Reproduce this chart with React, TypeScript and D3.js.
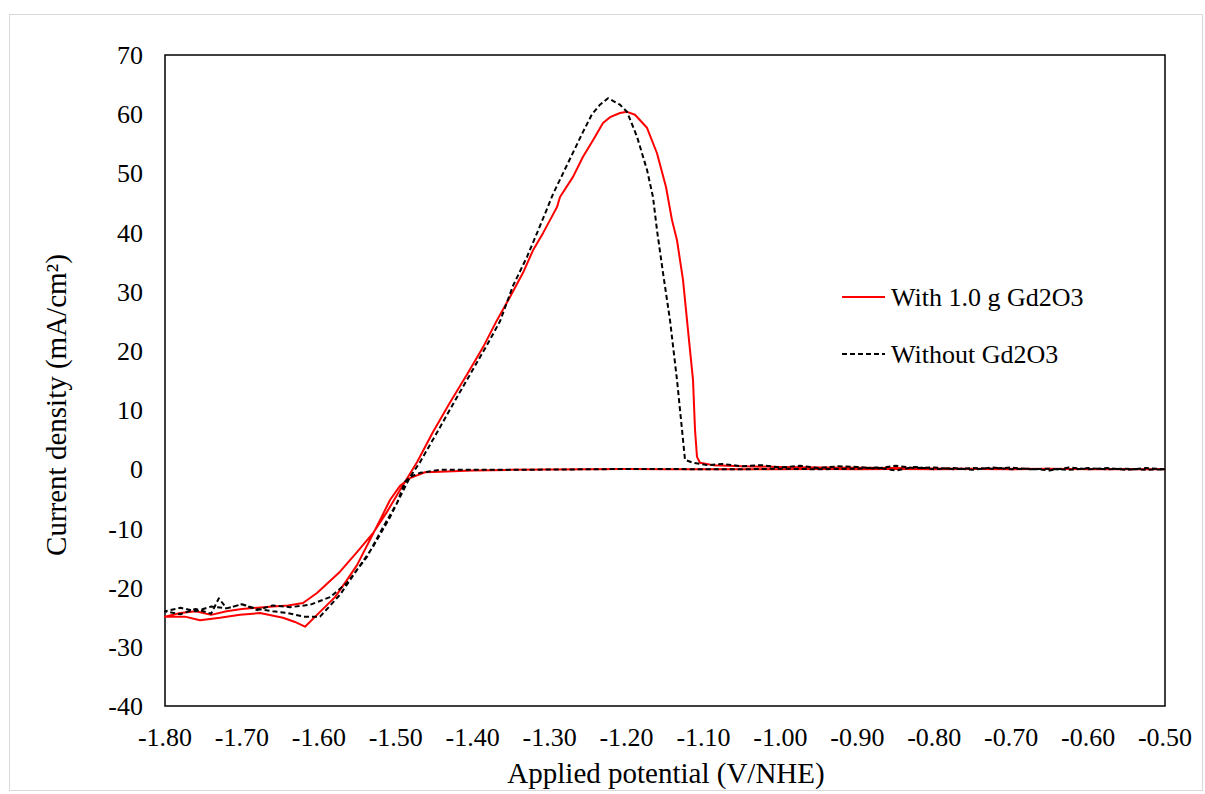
import React from "react";
import * as d3 from "d3";

const xTicks = [-1.8, -1.7, -1.6, -1.5, -1.4, -1.3, -1.2, -1.1, -1.0, -0.9, -0.8, -0.7, -0.6, -0.5];
const yTicks = [-40, -30, -20, -10, 0, 10, 20, 30, 40, 50, 60, 70];

// With 1.0 g Gd2O3 : cathodic sweep (-0.5 -> -1.8) then anodic sweep (-1.8 -> -0.5)
const redPotential = [
  -0.5, -0.55, -0.6, -0.65, -0.7, -0.75, -0.8, -0.85, -0.9, -0.95, -1.0, -1.05, -1.1, -1.15, -1.2, -1.25, -1.3, -1.35, -1.4,
  -1.4425, -1.462, -1.4815, -1.4945, -1.5075, -1.5205, -1.5335, -1.5504, -1.566, -1.579, -1.5985, -1.618, -1.631, -1.6466,
  -1.6765, -1.7025, -1.7285, -1.7545, -1.774, -1.8,
  -1.78, -1.76, -1.74, -1.72, -1.7, -1.68, -1.66, -1.64, -1.6206, -1.6024, -1.5725, -1.5504, -1.5296, -1.5114, -1.4945,
  -1.4724, -1.4516, -1.4295, -1.4074, -1.3866, -1.3684, -1.3515, -1.3346, -1.3216, -1.3086, -1.2995, -1.2904, -1.2865,
  -1.2696, -1.2566, -1.2436, -1.2306, -1.2215, -1.2085, -1.1994, -1.189, -1.1734, -1.1604, -1.1487, -1.1409, -1.1344,
  -1.1266, -1.1201, -1.1136, -1.111, -1.1084, -1.1045, -1.0876, -1.05, -1.0, -0.95, -0.9, -0.85, -0.8, -0.75, -0.7, -0.65,
  -0.6, -0.55, -0.5,
];
const redCurrent = [
  0.0, 0.05, 0.0, 0.1, 0.0, 0.05, 0.0, 0.05, 0.0, 0.05, 0.0, 0.0, 0.0, 0.0, 0.05, 0.0, -0.05, -0.1, -0.2,
  -0.4, -0.5, -1.5, -2.8, -5.2, -8.6, -11.9, -16.2, -19.2, -21.6, -24.1, -26.6, -25.8, -25.1,
  -24.3, -24.6, -25.1, -25.5, -24.9, -24.9,
  -24.3, -24.0, -24.6, -24.0, -23.6, -23.4, -23.2, -23.0, -22.6, -20.9, -17.3, -14.0, -10.8, -7.2, -3.5,
  1.2, 6.3, 11.3, 16.0, 20.6, 25.2, 29.1, 33.2, 37.0, 39.9, 42.1, 44.3, 46.0,
  49.4, 52.8, 55.6, 58.5, 59.5, 60.2, 60.4, 59.9, 57.7, 53.4, 47.7, 42.1, 38.7,
  32.0, 23.5, 15.1, 6.7, 2.1, 1.1, 0.7, 0.5, 0.4, 0.3, 0.25, 0.2, 0.15, 0.1, 0.1, 0.05,
  0.05, 0.0, 0.0,
];

// Without Gd2O3
const blackPotential = [
  -0.5, -0.525, -0.55, -0.575, -0.6, -0.625, -0.65, -0.675, -0.7, -0.725, -0.75, -0.775, -0.8, -0.825, -0.85, -0.875, -0.9,
  -0.95, -1.0, -1.05, -1.1, -1.15, -1.2, -1.25, -1.3, -1.35, -1.4,
  -1.4425, -1.4685, -1.4815, -1.488, -1.4984, -1.5166, -1.5374, -1.5634, -1.5855, -1.6115, -1.6375, -1.66, -1.68, -1.7,
  -1.72, -1.74, -1.76, -1.78, -1.8,
  -1.78, -1.76, -1.74, -1.73, -1.72, -1.7, -1.68, -1.66, -1.64, -1.62, -1.5985, -1.5725, -1.5504, -1.5296, -1.5075,
  -1.4945, -1.4815, -1.4685, -1.4464, -1.4256, -1.4035, -1.3814, -1.3645, -1.3476, -1.3294, -1.3164, -1.3034, -1.2956,
  -1.2826, -1.2696, -1.2566, -1.2449, -1.2345, -1.2241, -1.2085, -1.1994, -1.1864, -1.1734, -1.1656, -1.1604, -1.1526,
  -1.1435, -1.1344, -1.1279, -1.124, -1.1136, -1.0954, -1.075, -1.05, -1.025, -1.0, -0.975, -0.95, -0.925, -0.9, -0.875,
  -0.85, -0.825, -0.8, -0.775, -0.75, -0.725, -0.7, -0.675, -0.65, -0.625, -0.6, -0.575, -0.55, -0.525, -0.5,
];
const blackCurrent = [
  0.0, 0.2, -0.1, 0.2, 0.0, 0.3, -0.2, 0.1, 0.0, 0.3, -0.1, 0.2, 0.0, 0.4, -0.2, 0.3, 0.1,
  0.0, 0.1, 0.0, 0.0, 0.05, 0.05, 0.0, -0.05, -0.1, -0.1,
  -0.1, -0.6, -1.3, -2.1, -5.7, -9.8, -14.8, -19.2, -21.6, -22.9, -23.3, -23.0, -23.8, -22.8,
  -23.5, -23.2, -24.0, -23.4, -24.0,
  -24.5, -23.6, -24.4, -21.8, -23.5, -22.8, -23.6, -24.0, -24.3, -24.9, -24.9, -21.2, -17.0, -13.1, -8.1,
  -4.7, -1.3, 1.2, 6.2, 11.0, 16.0, 21.0, 25.0, 31.0, 35.9, 39.9, 44.0, 46.5,
  50.0, 53.5, 57.0, 60.0, 61.6, 62.7, 61.6, 60.4, 56.2, 50.6, 46.0, 40.4, 33.2,
  25.2, 15.1, 6.7, 1.6, 1.1, 0.7, 0.9, 0.5, 0.7, 0.3, 0.6, 0.2, 0.5, 0.4, 0.1,
  0.6, 0.2, 0.3, 0.0, 0.2, 0.1, 0.3, 0.0, 0.1, -0.1, 0.2, 0.0, 0.1, -0.1, 0.0,
];

const seriesNames = ["With 1.0 g Gd2O3", "Without Gd2O3"];

const W = 1205;
const H = 794;
const left = 165;
const right = 1165;
const top = 55;
const bottom = 706;
const FONT = "'Liberation Serif', 'Times New Roman', serif";

export default function App() {
  const x = d3.scaleLinear().domain([-1.8, -0.5]).range([left, right]);
  const y = d3.scaleLinear().domain([-40, 70]).range([bottom, top]);

  const line = d3
    .line<[number, number]>()
    .x((d) => x(d[0]))
    .y((d) => y(d[1]));

  const redData: [number, number][] = redPotential.map((v, i) => [v, redCurrent[i]]);
  const blackData: [number, number][] = blackPotential.map((v, i) => [v, blackCurrent[i]]);

  return (
    <div style={{ position: "absolute", left: 0, top: 0 }}>
      <svg width={W} height={H} style={{ display: "block", background: "#fff" }}>
        <rect x={9.5} y={14.5} width={W - 12} height={H - 18} fill="#fff" stroke="#d9d9d9" strokeWidth={1} />
        <rect x={left} y={top} width={right - left} height={bottom - top} fill="none" stroke="#000" strokeWidth={1.5} />
        {yTicks.map((t) => (
          <text key={"y" + t} x={143} y={y(t)} dy="0.35em" textAnchor="end" fontFamily={FONT} fontSize={26} fill="#000">
            {t}
          </text>
        ))}
        {xTicks.map((t) => (
          <text key={"x" + t} x={x(t)} y={746} textAnchor="middle" fontFamily={FONT} fontSize={26} fill="#000">
            {t.toFixed(2)}
          </text>
        ))}
        <path d={line(redData) || ""} fill="none" stroke="#ff0000" strokeWidth={2} strokeLinejoin="round" />
        <path d={line(blackData) || ""} fill="none" stroke="#000" strokeWidth={2} strokeDasharray="5,3" strokeLinejoin="round" />
        <line x1={842} x2={885} y1={297} y2={297} stroke="#ff0000" strokeWidth={2} />
        <text x={891} y={297} dy="0.35em" fontFamily={FONT} fontSize={26} fill="#000">
          {seriesNames[0]}
        </text>
        <line x1={842} x2={885} y1={354} y2={354} stroke="#000" strokeWidth={2} strokeDasharray="5,3" />
        <text x={891} y={354} dy="0.35em" fontFamily={FONT} fontSize={26} fill="#000">
          {seriesNames[1]}
        </text>
        <text
          transform={`translate(56, 405) rotate(-90)`}
          textAnchor="middle"
          dy="0.35em"
          fontFamily={FONT}
          fontSize={29}
          fill="#000"
        >
          Current density (mA/cm²)
        </text>
        <text x={666} y={783} textAnchor="middle" fontFamily={FONT} fontSize={29} fill="#000">
          Applied potential (V/NHE)
        </text>
      </svg>
    </div>
  );
}
